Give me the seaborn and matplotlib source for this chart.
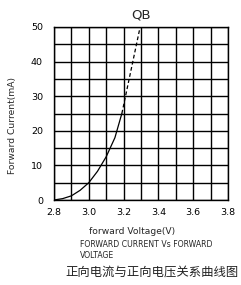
import numpy as np
import pandas as pd
import seaborn as sns
import matplotlib.pyplot as plt
from matplotlib.ticker import MultipleLocator

# values
volt_solid = [2.80, 2.85, 2.90, 2.95, 3.00, 3.05, 3.10, 3.15, 3.19]
curr_solid = [0.0, 0.4, 1.2, 2.8, 5.0, 8.3, 12.5, 18.0, 25.0]
volt_dash = [3.19, 3.295]
curr_dash = [25.0, 50.0]

x_ticks = [2.8, 3.0, 3.2, 3.4, 3.6, 3.8]
y_ticks = [0, 10, 20, 30, 40, 50]

title = "QB"
x_label = "forward Voltage(V)"
y_label = "Forward Current(mA)"
caption_en = "FORWARD CURRENT Vs FORWARD\nVOLTAGE"
caption_cn = "正向电流与正向电压关系曲线图"

sns.set_style("white")
plt.rcParams['font.family'] = ['DejaVu Sans']

solid = pd.DataFrame({"V": volt_solid, "I": curr_solid})
dash = pd.DataFrame({"V": volt_dash, "I": curr_dash})

fig = plt.figure(figsize=(2.41, 2.85), dpi=100)
ax = fig.add_axes([54 / 241, 85 / 285, 174 / 241, 173 / 285])

sns.lineplot(data=solid, x="V", y="I", ax=ax, color="black", lw=0.9)
sns.lineplot(data=dash, x="V", y="I", ax=ax, color="black", lw=0.9,
             linestyle=(0, (3, 2)))

ax.set_xlim(2.8, 3.8)
ax.set_ylim(0, 50)
ax.set_xticks(x_ticks)
ax.set_yticks(y_ticks)
ax.set_xticklabels([f"{v:.1f}" for v in x_ticks])
ax.xaxis.set_minor_locator(MultipleLocator(0.1))
ax.yaxis.set_minor_locator(MultipleLocator(5))
ax.grid(True, which="both", color="black", lw=1.0)
ax.tick_params(which="both", length=0, labelsize=6.8, colors="black")
ax.tick_params(axis="y", pad=8)
ax.tick_params(axis="x", pad=6)
for s in ax.spines.values():
    s.set_color("black")
    s.set_linewidth(1.0)
ax.set_xlabel("")
ax.set_ylabel("")
ax.set_title(title, fontsize=9.5, pad=6)

fig.text(12.5 / 241, 1 - 125 / 285, y_label, rotation=90, fontsize=6.6,
         ha="center", va="center")
fig.text(132 / 241, 1 - 231 / 285, x_label, fontsize=6.6, ha="center", va="center")
fig.text(80 / 241, 1 - 240 / 285, caption_en, fontsize=5.6, ha="left", va="top",
         family=["Liberation Sans Narrow", "DejaVu Sans"], linespacing=1.35)
fig.text(152.5 / 241, 1 - 272 / 285, caption_cn, fontsize=8.9, ha="center",
         va="center", family=["Noto Sans CJK SC", "DejaVu Sans"], color="#222222")

fig.savefig("out.png", dpi=100)
